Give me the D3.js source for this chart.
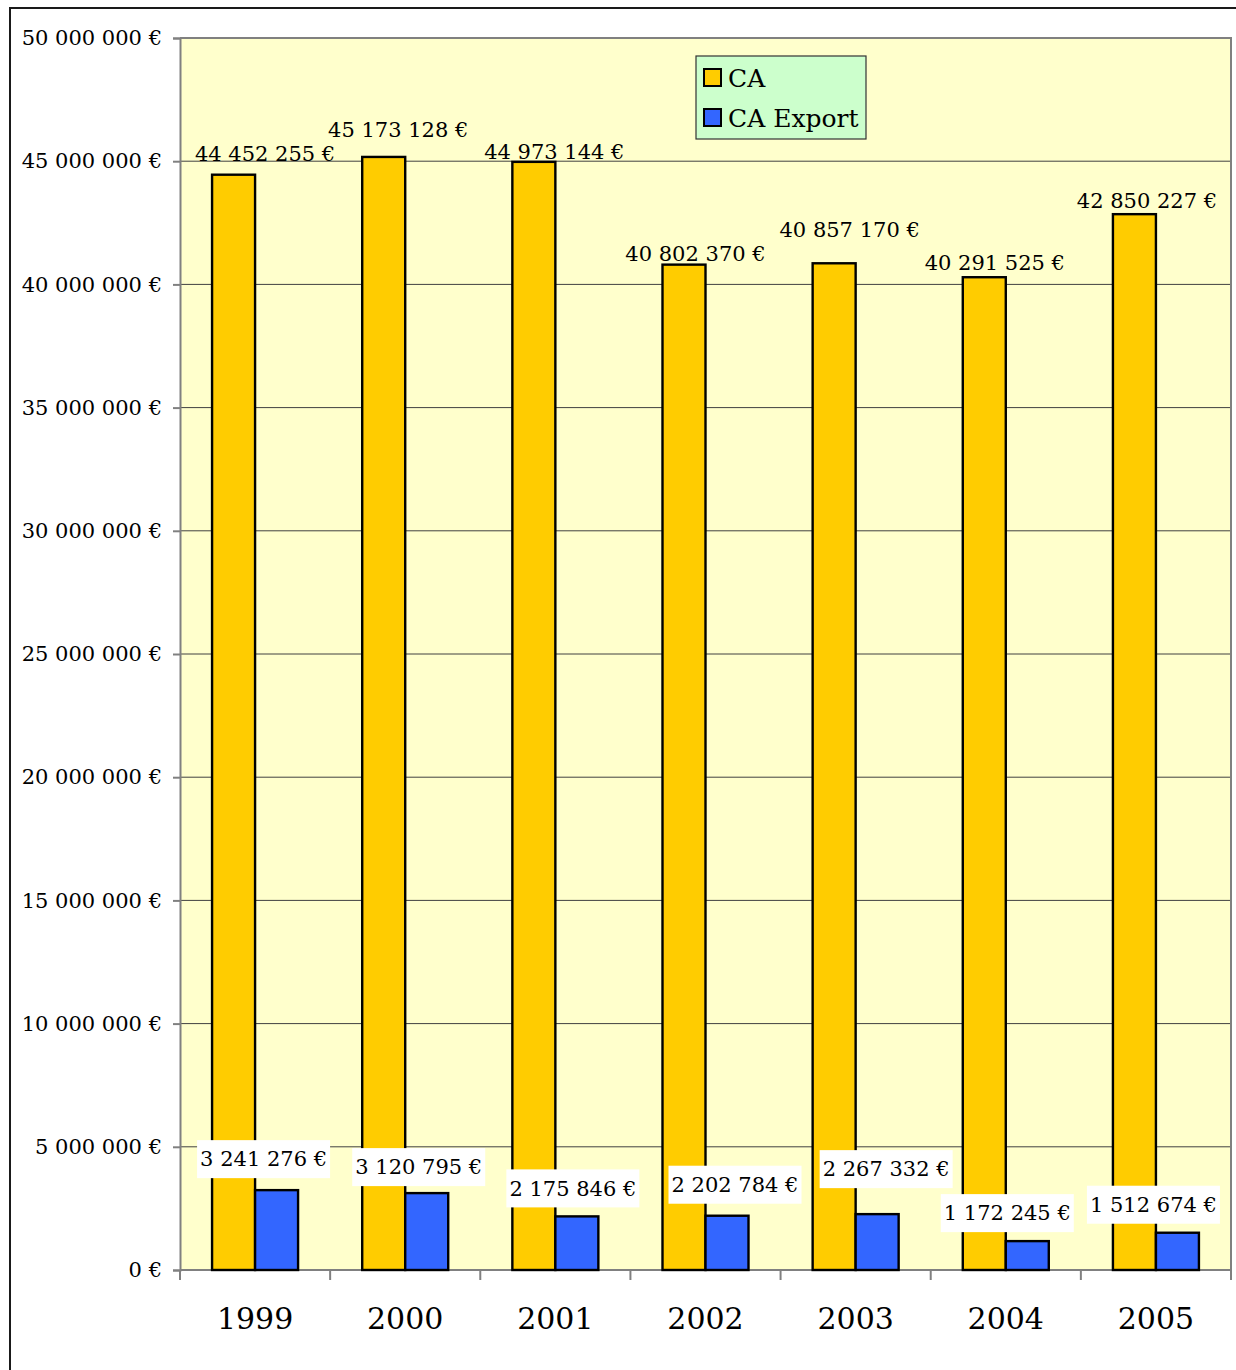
<!DOCTYPE html>
<html>
<head>
<meta charset="utf-8">
<script src="https://cdn.jsdelivr.net/npm/d3@7"></script>
<style>
  html, body { margin: 0; padding: 0; background: #fff; }
  svg { display: block; }
  text { font-family: "DejaVu Serif", "Liberation Serif", serif; fill: #000; }
</style>
</head>
<body>
<svg id="chart" width="1236" height="1370"></svg>
<script>
// Chiffre d'affaires total et à l'export, 1999–2005
const years = ["1999", "2000", "2001", "2002", "2003", "2004", "2005"];
const caValues = [44452255, 45173128, 44973144, 40802370, 40857170, 40291525, 42850227];
const exportValues = [3241276, 3120795, 2175846, 2202784, 2267332, 1172245, 1512674];
const seriesNames = ["CA", "CA Export"];
const yTicks = [0, 5000000, 10000000, 15000000, 20000000, 25000000, 30000000, 35000000, 40000000, 45000000, 50000000];

// Hand-placed label nudges (pixels): CA labels relative to the group centre / bar top,
// export labels (box centre) relative to the export bar centre / bar top.
const caLabelNudge = [[10, -14], [-7, -20], [-1, -3], [-10, -4], [-6, -26], [-11, -7], [-9, -6]];
const exLabelNudge = [[-13, -31], [-8, -26], [-4, -28], [8, -31], [9, -45], [-20, -28], [-24, -28]];

const colors = { ca: "#FFCC00", ex: "#3366FF" };

const fmt = v => d3.format(",")(v).replace(/,/g, " ") + " €";

const svg = d3.select("#chart");

// outer frame (runs off the right and bottom edges)
svg.append("rect")
  .attr("x", 10).attr("y", 8).attr("width", 1300).attr("height", 1400)
  .attr("fill", "#fff").attr("stroke", "#1a1a1a").attr("stroke-width", 2);

const plot = { left: 180, right: 1231, top: 38, bottom: 1270 };

const x = d3.scaleBand().domain(years).range([plot.left, plot.right]).paddingInner(0).paddingOuter(0);
const y = d3.scaleLinear().domain([0, 50000000]).range([plot.bottom, plot.top]);
const barW = 43;

// plot background
svg.append("rect")
  .attr("x", plot.left).attr("y", plot.top)
  .attr("width", plot.right - plot.left).attr("height", plot.bottom - plot.top)
  .attr("fill", "#FFFFCC");

// gridlines
svg.append("g").selectAll("line")
  .data(yTicks.filter(t => t > 0 && t < 50000000))
  .join("line")
  .attr("x1", plot.left).attr("x2", plot.right)
  .attr("y1", d => y(d)).attr("y2", d => y(d))
  .attr("stroke", "#404040").attr("stroke-width", 1);

// plot border (top / right)
svg.append("path")
  .attr("d", `M${plot.left},${plot.top}H${plot.right}V${plot.bottom}`)
  .attr("fill", "none").attr("stroke", "#808080").attr("stroke-width", 2);

// y axis
const yAxis = d3.axisLeft(y).tickValues(yTicks).tickSize(7).tickPadding(11).tickFormat(fmt);
const gy = svg.append("g").attr("transform", `translate(${plot.left},0)`).call(yAxis);
gy.select(".domain").attr("stroke", "#808080").attr("stroke-width", 2);
gy.selectAll(".tick line").attr("stroke", "#808080").attr("stroke-width", 2);
gy.selectAll(".tick text")
  .style("font-family", "'DejaVu Serif', serif").style("font-size", "21px").attr("fill", "#000");

// x axis with ticks between categories
const boundaries = years.map(d => x(d)).concat([plot.right]);
const gx = svg.append("g");
gx.append("line")
  .attr("x1", plot.left).attr("x2", plot.right)
  .attr("y1", plot.bottom).attr("y2", plot.bottom)
  .attr("stroke", "#808080").attr("stroke-width", 2);
gx.selectAll("line.tk").data(boundaries).join("line")
  .attr("class", "tk")
  .attr("x1", d => d).attr("x2", d => d)
  .attr("y1", plot.bottom).attr("y2", plot.bottom + 10)
  .attr("stroke", "#808080").attr("stroke-width", 2);
gx.selectAll("text").data(years).join("text")
  .attr("x", d => x(d) + x.bandwidth() / 2)
  .attr("y", 1329)
  .attr("text-anchor", "middle")
  .style("font-size", "30px")
  .text(d => d);

// bars
const groupCenter = d => x(d) + x.bandwidth() / 2;
svg.append("g").selectAll("rect").data(years).join("rect")
  .attr("x", d => groupCenter(d) - barW)
  .attr("y", (d, i) => y(caValues[i]))
  .attr("width", barW)
  .attr("height", (d, i) => y(0) - y(caValues[i]))
  .attr("fill", colors.ca).attr("stroke", "#000").attr("stroke-width", 2.4);

svg.append("g").selectAll("rect").data(years).join("rect")
  .attr("x", d => groupCenter(d))
  .attr("y", (d, i) => y(exportValues[i]))
  .attr("width", barW)
  .attr("height", (d, i) => y(0) - y(exportValues[i]))
  .attr("fill", colors.ex).attr("stroke", "#000").attr("stroke-width", 2.4);

// CA value labels
svg.append("g").selectAll("text").data(years).join("text")
  .attr("x", (d, i) => groupCenter(d) + caLabelNudge[i][0])
  .attr("y", (d, i) => y(caValues[i]) + caLabelNudge[i][1])
  .attr("text-anchor", "middle")
  .style("font-size", "21px")
  .text((d, i) => fmt(caValues[i]));

// export value labels on white boxes
const exG = svg.append("g").selectAll("g").data(years).join("g")
  .attr("transform", (d, i) =>
    `translate(${groupCenter(d) + barW / 2 + exLabelNudge[i][0]},${y(exportValues[i]) + exLabelNudge[i][1]})`);
exG.append("rect")
  .attr("x", -66.5).attr("y", -19).attr("width", 133).attr("height", 38)
  .attr("fill", "#fff");
exG.append("text")
  .attr("text-anchor", "middle")
  .attr("dy", "0.35em")
  .style("font-size", "21px")
  .text((d, i) => fmt(exportValues[i]));

// legend
const lg = svg.append("g").attr("transform", "translate(696,56)");
lg.append("rect").attr("width", 170).attr("height", 83)
  .attr("fill", "#CCFFCC").attr("stroke", "#333").attr("stroke-width", 1.2);
const items = lg.selectAll("g").data(seriesNames).join("g")
  .attr("transform", (d, i) => `translate(0,${i * 40})`);
items.append("rect")
  .attr("x", 8).attr("y", 13).attr("width", 17).attr("height", 17)
  .attr("fill", (d, i) => i === 0 ? colors.ca : colors.ex)
  .attr("stroke", "#000").attr("stroke-width", 2);
items.append("text")
  .attr("x", 32).attr("y", 31)
  .style("font-size", "25px")
  .text(d => d);
</script>
</body>
</html>
